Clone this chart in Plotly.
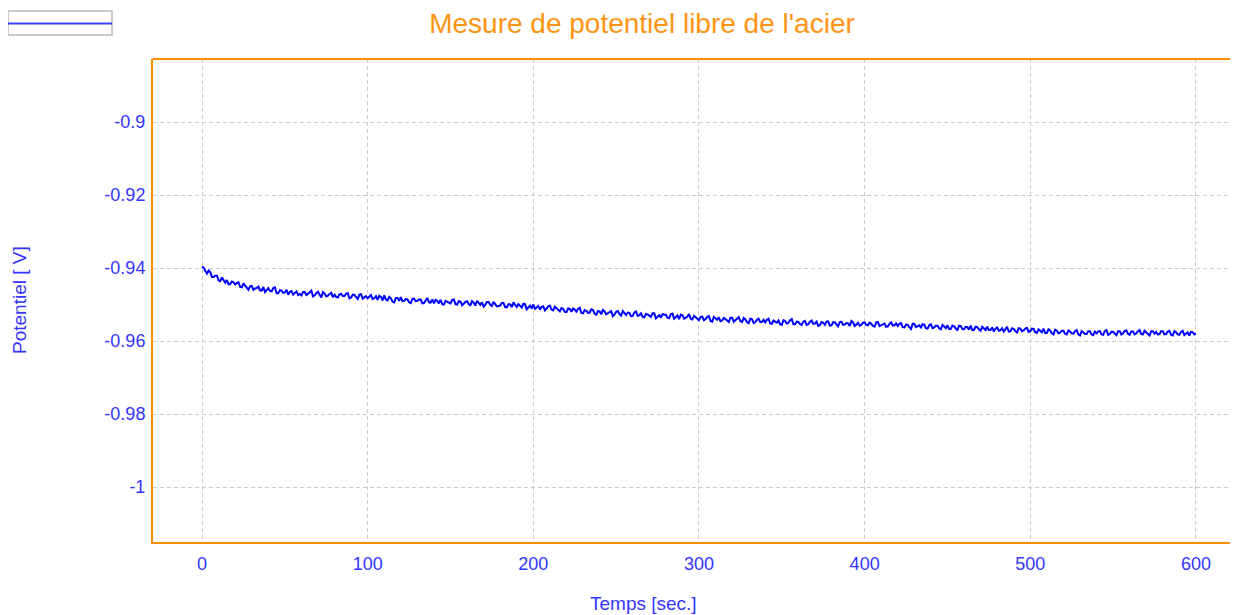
import plotly.graph_objects as go

# ---- data ----
title_text = "Mesure de potentiel libre de l'acier"
x_title = "Temps [sec.]"
y_title = "Potentiel [ V]"

x_ticks = [0, 100, 200, 300, 400, 500, 600]
y_ticks = [-0.9, -0.92, -0.94, -0.96, -0.98, -1.0]
y_tick_labels = ["-0.9", "-0.92", "-0.94", "-0.96", "-0.98", "-1"]

# sampling clock (seconds), one reading per second
time_s = list(range(0, 601))

potential_v = [
    -0.9396, -0.9399, -0.9408, -0.9415, -0.9407, -0.9412, -0.9425, -0.9425, -0.9421, -0.9421,
    -0.9434, -0.9436, -0.9426, -0.9433, -0.9440, -0.9433, -0.9445, -0.9444, -0.9437, -0.9439,
    -0.9445, -0.9441, -0.9439, -0.9452, -0.9453, -0.9442, -0.9449, -0.9453, -0.9460, -0.9450,
    -0.9449, -0.9460, -0.9456, -0.9455, -0.9451, -0.9461, -0.9462, -0.9452, -0.9466, -0.9461,
    -0.9455, -0.9463, -0.9464, -0.9455, -0.9453, -0.9469, -0.9469, -0.9461, -0.9462, -0.9468,
    -0.9467, -0.9460, -0.9473, -0.9465, -0.9463, -0.9473, -0.9467, -0.9464, -0.9474, -0.9471,
    -0.9475, -0.9466, -0.9466, -0.9474, -0.9471, -0.9465, -0.9462, -0.9478, -0.9475, -0.9469,
    -0.9465, -0.9473, -0.9481, -0.9466, -0.9470, -0.9478, -0.9476, -0.9471, -0.9468, -0.9480,
    -0.9473, -0.9479, -0.9481, -0.9472, -0.9471, -0.9477, -0.9477, -0.9470, -0.9469, -0.9483,
    -0.9481, -0.9473, -0.9474, -0.9480, -0.9485, -0.9473, -0.9472, -0.9484, -0.9479, -0.9477,
    -0.9483, -0.9478, -0.9474, -0.9485, -0.9483, -0.9477, -0.9487, -0.9476, -0.9479, -0.9489,
    -0.9475, -0.9486, -0.9489, -0.9479, -0.9483, -0.9492, -0.9494, -0.9482, -0.9482, -0.9490,
    -0.9480, -0.9491, -0.9490, -0.9485, -0.9486, -0.9494, -0.9496, -0.9484, -0.9484, -0.9491,
    -0.9490, -0.9486, -0.9486, -0.9497, -0.9496, -0.9489, -0.9482, -0.9494, -0.9495, -0.9486,
    -0.9497, -0.9487, -0.9490, -0.9497, -0.9487, -0.9499, -0.9500, -0.9490, -0.9492, -0.9496,
    -0.9497, -0.9488, -0.9486, -0.9499, -0.9500, -0.9491, -0.9492, -0.9502, -0.9497, -0.9493,
    -0.9491, -0.9499, -0.9502, -0.9491, -0.9495, -0.9503, -0.9490, -0.9495, -0.9501, -0.9494,
    -0.9506, -0.9501, -0.9493, -0.9493, -0.9501, -0.9504, -0.9493, -0.9499, -0.9505, -0.9504,
    -0.9503, -0.9496, -0.9496, -0.9507, -0.9508, -0.9499, -0.9500, -0.9507, -0.9494, -0.9501,
    -0.9507, -0.9499, -0.9505, -0.9508, -0.9498, -0.9499, -0.9513, -0.9507, -0.9503, -0.9511,
    -0.9500, -0.9512, -0.9509, -0.9504, -0.9514, -0.9507, -0.9505, -0.9516, -0.9511, -0.9505,
    -0.9503, -0.9514, -0.9516, -0.9506, -0.9510, -0.9516, -0.9519, -0.9510, -0.9512, -0.9520,
    -0.9521, -0.9511, -0.9512, -0.9520, -0.9511, -0.9514, -0.9520, -0.9512, -0.9509, -0.9523,
    -0.9524, -0.9515, -0.9517, -0.9523, -0.9522, -0.9513, -0.9515, -0.9525, -0.9528, -0.9518,
    -0.9519, -0.9527, -0.9515, -0.9519, -0.9527, -0.9524, -0.9522, -0.9518, -0.9532, -0.9528,
    -0.9520, -0.9518, -0.9526, -0.9530, -0.9518, -0.9523, -0.9529, -0.9522, -0.9523, -0.9532,
    -0.9531, -0.9522, -0.9519, -0.9531, -0.9529, -0.9524, -0.9534, -0.9535, -0.9526, -0.9527,
    -0.9532, -0.9534, -0.9524, -0.9524, -0.9538, -0.9533, -0.9529, -0.9536, -0.9526, -0.9528,
    -0.9528, -0.9536, -0.9537, -0.9527, -0.9525, -0.9539, -0.9535, -0.9530, -0.9540, -0.9528,
    -0.9529, -0.9539, -0.9537, -0.9533, -0.9526, -0.9539, -0.9541, -0.9531, -0.9535, -0.9539,
    -0.9543, -0.9534, -0.9533, -0.9543, -0.9540, -0.9534, -0.9532, -0.9545, -0.9547, -0.9534,
    -0.9537, -0.9542, -0.9535, -0.9546, -0.9544, -0.9537, -0.9540, -0.9544, -0.9548, -0.9536,
    -0.9536, -0.9547, -0.9543, -0.9538, -0.9534, -0.9546, -0.9548, -0.9537, -0.9541, -0.9548,
    -0.9551, -0.9539, -0.9540, -0.9551, -0.9548, -0.9542, -0.9539, -0.9548, -0.9548, -0.9542,
    -0.9549, -0.9542, -0.9539, -0.9552, -0.9553, -0.9544, -0.9546, -0.9550, -0.9544, -0.9554,
    -0.9556, -0.9543, -0.9545, -0.9552, -0.9550, -0.9543, -0.9540, -0.9554, -0.9554, -0.9547,
    -0.9548, -0.9554, -0.9556, -0.9547, -0.9545, -0.9556, -0.9554, -0.9547, -0.9544, -0.9553,
    -0.9552, -0.9547, -0.9559, -0.9556, -0.9548, -0.9550, -0.9556, -0.9547, -0.9546, -0.9558,
    -0.9557, -0.9548, -0.9549, -0.9556, -0.9560, -0.9548, -0.9547, -0.9556, -0.9555, -0.9551,
    -0.9552, -0.9559, -0.9545, -0.9549, -0.9559, -0.9555, -0.9550, -0.9558, -0.9556, -0.9550,
    -0.9549, -0.9556, -0.9557, -0.9550, -0.9553, -0.9559, -0.9561, -0.9549, -0.9548, -0.9559,
    -0.9557, -0.9553, -0.9552, -0.9561, -0.9560, -0.9553, -0.9549, -0.9558, -0.9557, -0.9552,
    -0.9559, -0.9553, -0.9551, -0.9562, -0.9563, -0.9555, -0.9556, -0.9562, -0.9567, -0.9553,
    -0.9553, -0.9562, -0.9560, -0.9557, -0.9563, -0.9554, -0.9555, -0.9565, -0.9566, -0.9557,
    -0.9554, -0.9565, -0.9563, -0.9558, -0.9558, -0.9565, -0.9568, -0.9556, -0.9560, -0.9565,
    -0.9557, -0.9567, -0.9567, -0.9558, -0.9560, -0.9566, -0.9571, -0.9558, -0.9559, -0.9567,
    -0.9568, -0.9561, -0.9562, -0.9569, -0.9558, -0.9570, -0.9570, -0.9561, -0.9562, -0.9568,
    -0.9572, -0.9561, -0.9565, -0.9570, -0.9561, -0.9570, -0.9570, -0.9563, -0.9574, -0.9566,
    -0.9563, -0.9572, -0.9570, -0.9565, -0.9574, -0.9567, -0.9561, -0.9574, -0.9573, -0.9565,
    -0.9567, -0.9573, -0.9577, -0.9565, -0.9566, -0.9573, -0.9571, -0.9566, -0.9564, -0.9575,
    -0.9573, -0.9566, -0.9567, -0.9576, -0.9578, -0.9568, -0.9571, -0.9576, -0.9566, -0.9578,
    -0.9578, -0.9568, -0.9571, -0.9579, -0.9582, -0.9569, -0.9571, -0.9579, -0.9577, -0.9572,
    -0.9572, -0.9580, -0.9582, -0.9571, -0.9574, -0.9579, -0.9580, -0.9573, -0.9570, -0.9582,
    -0.9585, -0.9573, -0.9576, -0.9581, -0.9581, -0.9573, -0.9573, -0.9582, -0.9584, -0.9574,
    -0.9579, -0.9574, -0.9573, -0.9582, -0.9583, -0.9573, -0.9570, -0.9583, -0.9581, -0.9575,
    -0.9575, -0.9581, -0.9584, -0.9573, -0.9573, -0.9582, -0.9579, -0.9572, -0.9571, -0.9580,
    -0.9583, -0.9574, -0.9574, -0.9582, -0.9579, -0.9573, -0.9570, -0.9581, -0.9582, -0.9572,
    -0.9576, -0.9582, -0.9585, -0.9573, -0.9573, -0.9580, -0.9575, -0.9582, -0.9581, -0.9573,
    -0.9573, -0.9582, -0.9581, -0.9574, -0.9572, -0.9583, -0.9585, -0.9573, -0.9576, -0.9582,
    -0.9583, -0.9575, -0.9572, -0.9584, -0.9581, -0.9576, -0.9585, -0.9575, -0.9576, -0.9582,
    -0.9579,
]

# ---- styling ----
OFF = 8                      # page body margin offsets the figure by 8 px
W, H = 1238 - OFF, 615 - OFF
ML, MR, MT, MB = 153 - OFF, 0, 59 - OFF, 615 - 542
PW, PH = W - ML - MR, H - MT - MB

ORANGE = "#FF8C00"
TITLE_ORANGE = "#FF9412"
BLUE_TXT = "#3434FF"
LINE_BLUE = "#0000FF"
GRID = "#CBCBCB"
FONT = "Liberation Sans, Arial, sans-serif"


def px_x(px):
    """reference-image x pixel -> paper coordinate"""
    return (px - OFF - ML) / PW


def px_y(py):
    """reference-image y pixel -> paper coordinate"""
    return (H - MB - (py - OFF)) / PH


fig = go.Figure()
fig.add_trace(go.Scatter(
    x=time_s, y=potential_v, mode="lines",
    line=dict(color=LINE_BLUE, width=2),
    showlegend=False, hoverinfo="x+y",
))

fig.update_layout(
    width=W, height=H,
    margin=dict(l=ML, r=MR, t=MT, b=MB, pad=0),
    paper_bgcolor="white", plot_bgcolor="white",
    font=dict(family=FONT, color=BLUE_TXT),
    title=dict(
        text=title_text, x=(642 - OFF) / W, xanchor="center",
        y=1 - (23 - OFF) / H, yanchor="middle", xref="container", yref="container",
        font=dict(family=FONT, size=28, color=TITLE_ORANGE),
    ),
    showlegend=False,
)

fig.update_xaxes(
    range=[-29.6, 625.4], tickmode="array", tickvals=x_ticks,
    ticktext=[str(v) for v in x_ticks],
    showgrid=True, gridcolor=GRID, gridwidth=1.3, griddash="4px,3px",
    zeroline=False, showline=True, linecolor=ORANGE, linewidth=2,
    ticks="", tickfont=dict(size=18, color=BLUE_TXT, family=FONT),
    ticklabelstandoff=4,
)
fig.update_yaxes(
    range=[-1.01507, -0.88274], tickmode="array", tickvals=y_ticks,
    ticktext=y_tick_labels,
    showgrid=True, gridcolor=GRID, gridwidth=1.3, griddash="4px,3px",
    zeroline=False, showline=True, linecolor=ORANGE, linewidth=2,
    ticks="", tickfont=dict(size=18, color=BLUE_TXT, family=FONT),
    ticklabelstandoff=2,
)

# top frame line
fig.add_shape(type="line", xref="paper", yref="paper", x0=0, x1=1, y0=1, y1=1,
              line=dict(color=ORANGE, width=2), layer="above")

# legend swatch (box with line, no text)
fig.add_shape(type="rect", xref="paper", yref="paper",
              x0=px_x(8), x1=px_x(112), y0=px_y(35), y1=px_y(11),
              line=dict(color=GRID, width=2), fillcolor="white")
fig.add_shape(type="line", xref="paper", yref="paper",
              x0=px_x(8), x1=px_x(112), y0=px_y(23.5), y1=px_y(23.5),
              line=dict(color="#3C3CFF", width=2))

# axis titles
fig.add_annotation(text=x_title, xref="paper", yref="paper",
                   x=px_x(643), y=px_y(603), xanchor="center", yanchor="middle",
                   showarrow=False, font=dict(size=19, color=BLUE_TXT, family=FONT))
fig.add_annotation(text=y_title, xref="paper", yref="paper",
                   x=px_x(19), y=px_y(300), xanchor="center", yanchor="middle",
                   textangle=-90, showarrow=False,
                   font=dict(size=19, color=BLUE_TXT, family=FONT))

fig.write_html("out.html")
